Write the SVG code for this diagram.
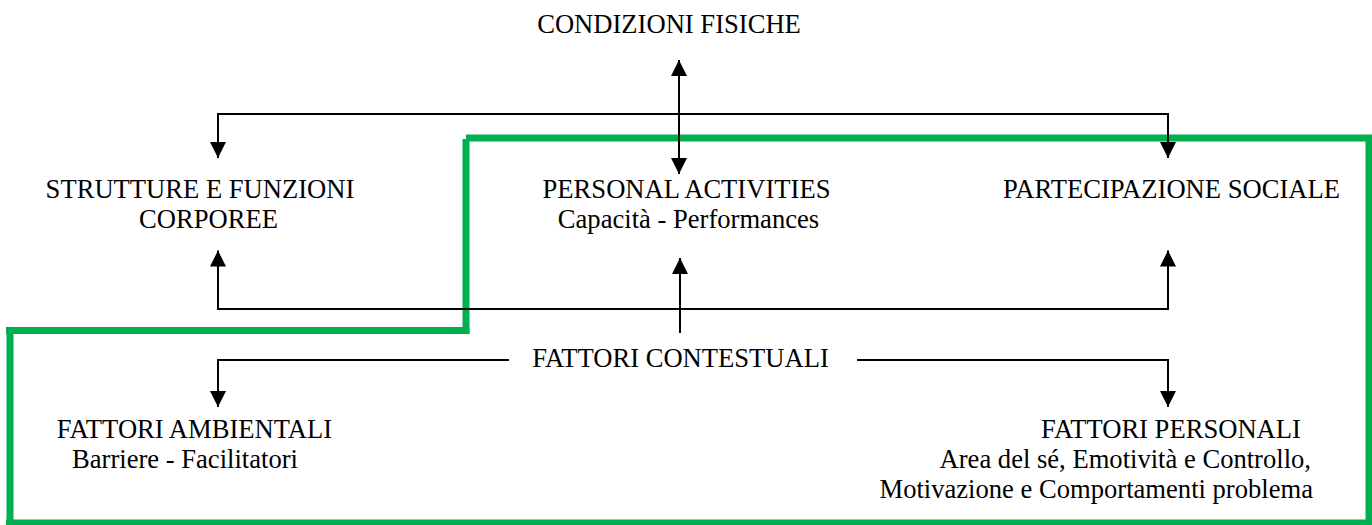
<svg xmlns="http://www.w3.org/2000/svg" width="1372" height="525" viewBox="0 0 1372 525">
  <style>
    text { font-family: "Liberation Serif", "Times New Roman", serif; font-size: 26.6px; fill: #000; }
    .mid { text-anchor: middle; }
    .end { text-anchor: end; }
    .conn { fill: none; stroke: #000; stroke-width: 2; }
    .green { fill: none; stroke: #00B050; stroke-width: 7; stroke-linecap: butt; }
  </style>
  <defs>
    <marker id="arrow" viewBox="0 0 16 16" refX="16" refY="8" markerWidth="16" markerHeight="16" markerUnits="userSpaceOnUse" orient="auto-start-reverse">
      <path d="M0,0 L16,8 L0,16 z" fill="#000"/>
    </marker>
  </defs>
  <rect width="1372" height="525" fill="#fff"/>

  <g id="boundary">
    <line class="green" x1="466" y1="138" x2="1372" y2="138"/>
    <line class="green" x1="1369" y1="138" x2="1369" y2="525"/>
    <line class="green" x1="6" y1="523" x2="1372" y2="523"/>
    <line class="green" x1="10" y1="330.5" x2="10" y2="525"/>
    <line class="green" x1="6" y1="330.5" x2="469.5" y2="330.5"/>
    <line class="green" x1="466" y1="139" x2="466" y2="334"/>
  </g>

  <g id="connectors">
    <path class="conn" d="M218 158 V114 H1168 V158" marker-start="url(#arrow)" marker-end="url(#arrow)"/>
    <path class="conn" d="M679 60 V174" marker-start="url(#arrow)" marker-end="url(#arrow)"/>
    <path class="conn" d="M218 250.5 V309 H1168 V250.5" marker-start="url(#arrow)" marker-end="url(#arrow)"/>
    <path class="conn" d="M680 333 V258" marker-end="url(#arrow)"/>
    <path class="conn" d="M509 360 H218 V407" marker-end="url(#arrow)"/>
    <path class="conn" d="M857 360 H1168 V407" marker-end="url(#arrow)"/>
  </g>

  <g id="condizioni-fisiche">
    <text class="mid" x="669" y="33">CONDIZIONI FISICHE</text>
  </g>
  <g id="strutture-funzioni">
    <text class="mid" x="200" y="197.5">STRUTTURE E FUNZIONI</text>
    <text class="mid" x="208.5" y="228">CORPOREE</text>
  </g>
  <g id="personal-activities">
    <text class="mid" x="686.5" y="197.5">PERSONAL ACTIVITIES</text>
    <text class="mid" x="688.5" y="228">Capacità - Performances</text>
  </g>
  <g id="partecipazione-sociale">
    <text class="mid" x="1171.5" y="197.5">PARTECIPAZIONE SOCIALE</text>
  </g>
  <g id="fattori-contestuali">
    <text class="mid" x="680.5" y="367">FATTORI CONTESTUALI</text>
  </g>
  <g id="fattori-ambientali">
    <text class="mid" x="194.5" y="438">FATTORI AMBIENTALI</text>
    <text class="mid" x="185" y="468">Barriere - Facilitatori</text>
  </g>
  <g id="fattori-personali">
    <text class="mid" x="1171" y="438">FATTORI PERSONALI</text>
    <text class="end" x="1311" y="468">Area del sé, Emotività e Controllo,</text>
    <text class="end" x="1313" y="498">Motivazione e Comportamenti problema</text>
  </g>
</svg>
